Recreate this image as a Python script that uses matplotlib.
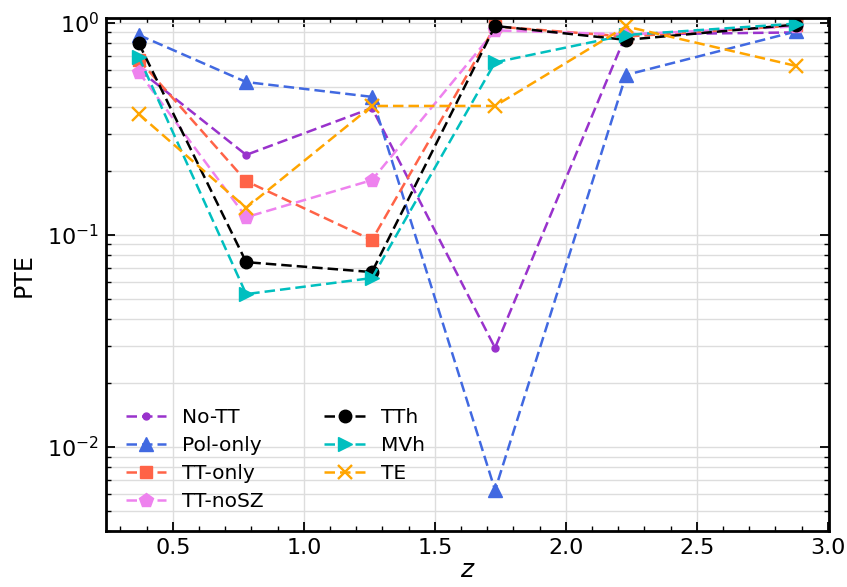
import numpy as np
import matplotlib
matplotlib.use('Agg')
import matplotlib.pyplot as plt
from matplotlib.ticker import LogLocator, MultipleLocator, NullFormatter

# redshift bins
z = [0.37, 0.78, 1.26, 1.73, 2.23, 2.88]

# PTE per estimator
pte_nott = [0.60, 0.238, 0.396, 0.0293, 0.88, 0.90]
pte_pol = [0.875, 0.525, 0.447, 0.00625, 0.567, 0.91]
pte_ttonly = [0.67, 0.179, 0.0944, 0.96, 0.86, 0.97]
pte_ttnosz = [0.585, 0.121, 0.181, 0.92, 0.88, 0.96]
pte_tth = [0.80, 0.0743, 0.0667, 0.965, 0.83, 0.98]
pte_mvh = [0.69, 0.0525, 0.0625, 0.65, 0.875, 0.99]
pte_te = [0.371, 0.134, 0.405, 0.405, 0.96, 0.625]

plt.rcParams['font.family'] = ['DejaVu Sans']

fig = plt.figure(figsize=(8.47, 5.87), dpi=100)
ax = fig.add_axes([0.125, 0.095, 0.854, 0.874])

lw = 1.8
dash = (4.2, 2.0)
ax.plot(z, pte_nott, '--', dashes=dash, color='darkorchid', marker='o', ms=5, lw=lw, label='No-TT')
ax.plot(z, pte_pol, '--', dashes=dash, color='royalblue', marker='^', ms=10, lw=lw, label='Pol-only')
ax.plot(z, pte_ttonly, '--', dashes=dash, color='tomato', marker='s', ms=9, lw=lw, label='TT-only')
ax.plot(z, pte_ttnosz, '--', dashes=dash, color='violet', marker='p', ms=10, lw=lw, label='TT-noSZ')
ax.plot(z, pte_tth, '--', dashes=dash, color='black', marker='o', ms=9, lw=lw, label='TTh')
ax.plot(z, pte_mvh, '--', dashes=dash, color='c', marker='>', ms=10, lw=lw, label='MVh')
ax.plot(z, pte_te, '--', dashes=dash, color='orange', marker='x', ms=10, mew=1.7, lw=lw, label='TE')

ax.set_yscale('log')
ax.set_ylim(0.004, 1.05)
ax.xaxis.set_major_locator(MultipleLocator(0.5))
ax.xaxis.set_minor_locator(MultipleLocator(0.1))
ax.yaxis.set_minor_locator(LogLocator(base=10, subs=np.arange(2, 10)))
ax.yaxis.set_minor_formatter(NullFormatter())

ax.tick_params(which='both', direction='in', top=True, right=True, labelsize=16)
ax.tick_params(which='major', length=6.5, width=1.3, pad=5)
ax.tick_params(which='minor', length=3.5, width=1.0)
for sp in ax.spines.values():
    sp.set_linewidth(2)

ax.grid(which='major', axis='x', color='#dddddd', lw=1)
ax.grid(which='both', axis='y', color='#dddddd', lw=1)
ax.set_axisbelow(True)

ax.set_xlabel('$z$', fontsize=18, labelpad=0)
ax.set_ylabel('PTE', fontsize=17, labelpad=8)

ax.legend(loc='lower left', ncol=2, frameon=False, fontsize=14.5,
          handlelength=2.0, columnspacing=3.0, borderaxespad=0.6,
          labelspacing=0.45)

fig.savefig('out.png', dpi=100)
